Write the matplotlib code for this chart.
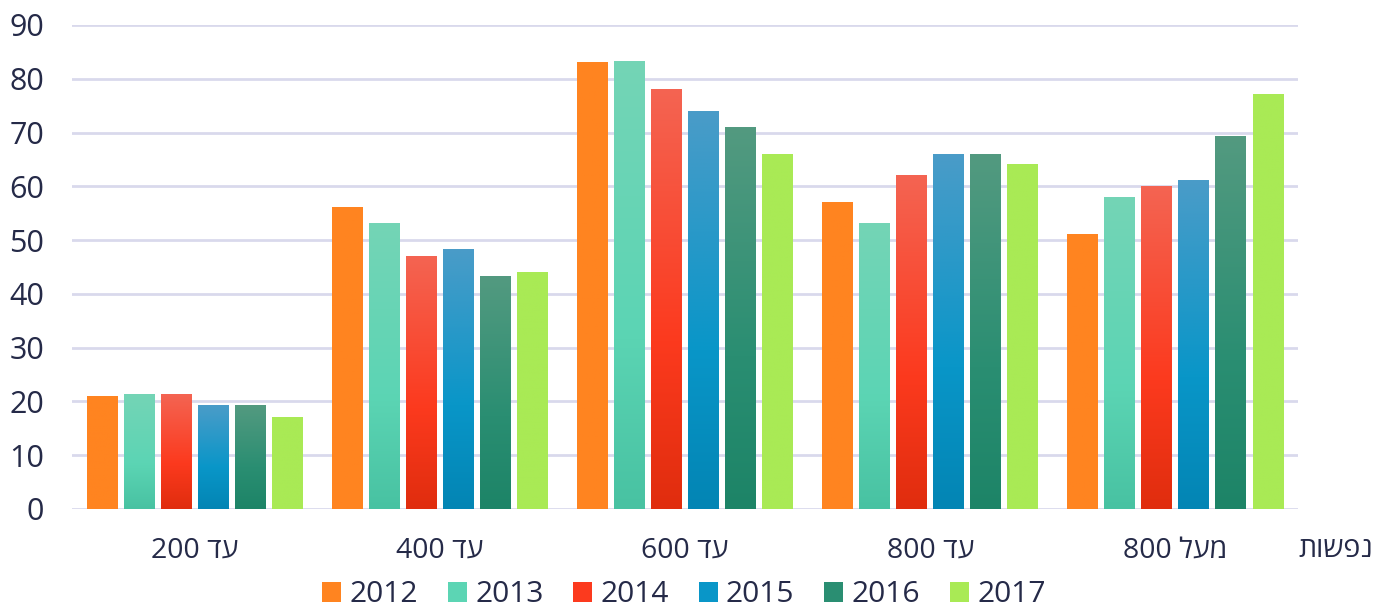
import matplotlib
matplotlib.use("Agg")
import matplotlib.pyplot as plt
import numpy as np
from matplotlib.colors import LinearSegmentedColormap
from matplotlib.patches import Patch

categories = ["עד 200", "עד 400", "עד 600", "עד 800", "מעל 800"]
years = ["2012", "2013", "2014", "2015", "2016", "2017"]
values = {
    "2012": [21, 56, 83, 57, 51],
    "2013": [21.2, 53, 83.2, 53, 58],
    "2014": [21.2, 47, 78, 62, 60],
    "2015": [19.2, 48.2, 74, 66, 61],
    "2016": [19.2, 43.2, 71, 66, 69.2],
    "2017": [17, 44, 66, 64, 77],
}
x_unit = "נפשות"

# top, middle, bottom colour of each series' gradient
gradients = {
    "2012": ["#FF8420", "#FF8420", "#FF8420"],
    "2013": ["#74D4B6", "#5CD5B4", "#48C2A2"],
    "2014": ["#F46452", "#FC3A1E", "#E02D0E"],
    "2015": ["#4A9CC8", "#0996C8", "#0385B4"],
    "2016": ["#539A80", "#2A8E72", "#1D8467"],
    "2017": ["#A9EA55", "#A9EA55", "#A9EA55"],
}

TEXT = "#252A48"
GRID = "#D9D9EC"
plt.rcParams["font.family"] = ["Open Sans", "DejaVu Sans"]


def visual(s):
    # matplotlib has no bidi support: put the text in visual left-to-right order
    def heb(w):
        return any("\u0590" <= c <= "\u05ff" for c in w)
    words = s.split(" ")[::-1]
    return " ".join(w[::-1] if heb(w) else w for w in words)


fig = plt.figure(figsize=(13.78, 6.09), dpi=100)
ax = fig.add_axes([72 / 1378, 1 - 509 / 609, 1226 / 1378, 484 / 609])

x = np.arange(len(categories))
pitch = 0.151
width = 0.126
for i, yr in enumerate(years):
    offs = (i - 2.5) * pitch
    bars = ax.bar(x + offs, values[yr], width, color=gradients[yr][1], zorder=2)
    cmap = LinearSegmentedColormap.from_list(yr, [(0, gradients[yr][2]), (0.4, gradients[yr][1]), (1, gradients[yr][0])])
    grad = np.linspace(0, 1, 256).reshape(-1, 1)
    for b in bars:
        bx, bw, bh = b.get_x(), b.get_width(), b.get_height()
        ax.imshow(grad, cmap=cmap, origin="lower", aspect="auto",
                  extent=[bx, bx + bw, 0, bh], zorder=3)

ax.set_xlim(-0.5, len(categories) - 0.5)
ax.set_ylim(0, 90)
ax.set_yticks(range(0, 91, 10))
ax.set_xticks(x)
ax.set_xticklabels([visual(c) for c in categories])
ax.tick_params(axis="y", length=0, pad=20, labelsize=22, labelcolor=TEXT)
ax.tick_params(axis="x", length=0, pad=20, labelsize=20.5, labelcolor=TEXT)
ax.grid(axis="y", color=GRID, linewidth=2, zorder=0)
ax.set_axisbelow(True)
for s in ax.spines.values():
    s.set_visible(False)

fig.text(1373 / 1378, 1 - 550 / 609, visual(x_unit), ha="right", va="center",
         fontsize=20.5, color=TEXT)

handles = [Patch(facecolor=gradients[yr][1], edgecolor="none") for yr in years]
leg = fig.legend(handles, years, loc="center", bbox_to_anchor=(684 / 1378, 1 - 595 / 609),
                 ncol=6, frameon=False, fontsize=21.5, handlelength=0.64, handleheight=0.67,
                 handletextpad=0.27, columnspacing=1.0, labelcolor=TEXT)

fig.savefig("out.png", dpi=100)
